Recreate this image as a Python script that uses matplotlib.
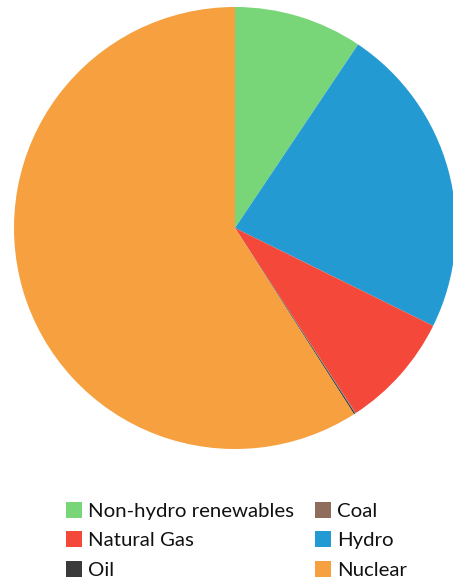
import matplotlib
matplotlib.use("Agg")
import matplotlib.pyplot as plt
from matplotlib.patches import Patch

labels = ["Non-hydro renewables", "Hydro", "Natural Gas", "Coal", "Oil", "Nuclear"]
values = [9.4, 22.9, 8.5, 0.05, 0.1, 59.05]
colors = ["#78D678", "#239BD2", "#F4493A", "#8E6D5D", "#3A3A3A", "#F6A03F"]

legend_order = ["Non-hydro renewables", "Natural Gas", "Oil", "Coal", "Hydro", "Nuclear"]

W, H = 453, 582
fig = plt.figure(figsize=(W / 100, H / 100), dpi=100)
cx, cy, r = 235, 228, 221
ax = fig.add_axes([(cx - r) / W, (H - cy - r) / H, 2 * r / W, 2 * r / H])
ax.pie(values, colors=colors, startangle=90, counterclock=False, radius=1,
       wedgeprops=dict(linewidth=0))
ax.set_xlim(-1, 1)
ax.set_ylim(-1, 1)
ax.set_aspect("equal")
ax.axis("off")

cmap = dict(zip(labels, colors))
handles = [Patch(facecolor=cmap[l], edgecolor="none", label=l) for l in legend_order]
leg = fig.legend(handles=handles, ncol=2, loc="upper left",
                 bbox_to_anchor=(66 / W, 1 - 502 / H), frameon=False,
                 prop=dict(family="Lato", size=14.7), handlelength=0.8, handleheight=0.82,
                 handletextpad=0.3, columnspacing=1.0, labelspacing=0.56,
                 borderpad=0, borderaxespad=0)
for t in leg.get_texts():
    t.set_color("#111111")

fig.savefig("out.png", dpi=100, facecolor="white")
